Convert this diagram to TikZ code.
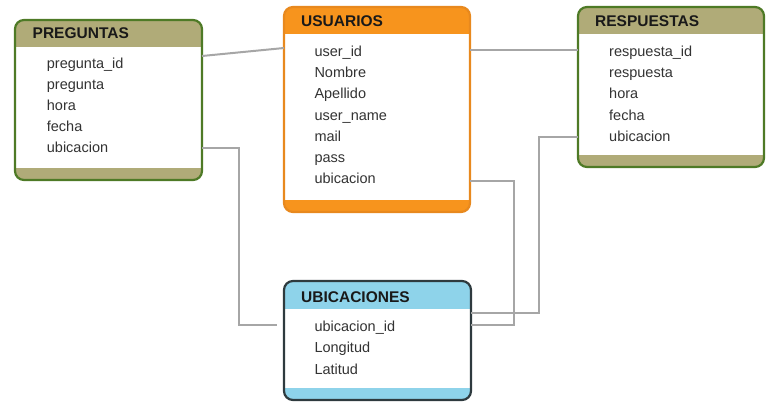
\documentclass[tikz,border=0pt]{standalone}
\usepackage{fontspec}
\setmainfont{Liberation Sans}
\usetikzlibrary{fit}
\definecolor{olivehd}{HTML}{B0AB78}
\definecolor{greenbd}{HTML}{4E7A26}
\definecolor{orangehd}{HTML}{F7941D}
\definecolor{orangebd}{HTML}{E8891E}
\definecolor{bluehd}{HTML}{8ED3EA}
\definecolor{bluebd}{HTML}{2E3A3E}
\definecolor{connc}{HTML}{A6A6A6}
\definecolor{fieldc}{HTML}{333333}
\tikzset{
  tblbox/.style={inner sep=0pt, outer sep=0pt, rounded corners=9pt, line width=2.2pt},
  ttl/.style={anchor=base west, inner sep=0pt, font=\fontsize{15.5}{18}\selectfont\bfseries, text=black!90},
  fld/.style={anchor=base west, inner sep=0pt, font=\fontsize{14.5}{17}\selectfont, text=fieldc},
  conn/.style={draw=connc, line width=2pt}
}
% #1 name, #2 x0, #3 y0, #4 x1, #5 y1, #6 header bottom, #7 footer top, #8 fill, #9 border
\newcommand\dbtab[9]{%
  \fill[#8, rounded corners=9pt] (#2,#3) rectangle (#4,#5);
  \fill[white] (#2,#6) rectangle (#4,#7);
  \node[tblbox, draw=#9, fit={(#2,#3)(#4,#5)}] (#1) {};
}
\begin{document}
\begin{tikzpicture}[x=1pt,y=-1pt]
\useasboundingbox (0,0) rectangle (777,413);
% tables
\dbtab{preg}{15}{20}{202}{180}{47}{168}{olivehd}{greenbd}
\dbtab{usu}{284}{7}{470}{212}{34}{200}{orangehd}{orangebd}
\dbtab{resp}{578}{7}{764}{167}{34}{155}{olivehd}{greenbd}
\dbtab{ubi}{284}{281}{471}{400}{309}{388}{bluehd}{bluebd}
% titles
\node[ttl] (tpreg) at (32.5,38) {PREGUNTAS};
\node[ttl] (tusu) at (301,26) {USUARIOS};
\node[ttl] (tresp) at (595,26) {RESPUESTAS};
\node[ttl] (tubi) at (301,302) {UBICACIONES};
% fields PREGUNTAS
\node[fld] (p1) at (46.7,68) {pregunta\_id};
\node[fld] (p2) at (46.7,89.2) {pregunta};
\node[fld] (p3) at (46.7,110.5) {hora};
\node[fld] (p4) at (46.7,131.7) {fecha};
\node[fld] (p5) at (46.7,152.9) {ubicacion};
% fields USUARIOS
\node[fld] (u1) at (314.3,56.7) {user\_id};
\node[fld] (u2) at (314.3,77.8) {Nombre};
\node[fld] (u3) at (314.3,98.9) {Apellido};
\node[fld] (u4) at (314.3,120) {user\_name};
\node[fld] (u5) at (314.3,141.1) {mail};
\node[fld] (u6) at (314.3,162.2) {pass};
\node[fld] (u7) at (314.3,183.3) {ubicacion};
% fields RESPUESTAS
\node[fld] (r1) at (609,56.7) {respuesta\_id};
\node[fld] (r2) at (609,77.8) {respuesta};
\node[fld] (r3) at (609,98.9) {hora};
\node[fld] (r4) at (609,120) {fecha};
\node[fld] (r5) at (609,141.1) {ubicacion};
% fields UBICACIONES
\node[fld] (b1) at (314.3,331.7) {ubicacion\_id};
\node[fld] (b2) at (314.3,352.9) {Longitud};
\node[fld] (b3) at (314.3,374.1) {Latitud};
% connectors
\begin{scope}[on background layer/.style={}]
\draw[conn] ([yshift=-36pt]preg.north east) -- ([yshift=-41pt]usu.north west);
\draw[conn] ([yshift=-43pt]usu.north east) -- ([yshift=-43pt]resp.north west);
\draw[conn] ([yshift=-128pt]preg.north east) -- ++(36.5pt,0) |- ([xshift=-7pt,yshift=-44pt]ubi.north west);
\draw[conn] ([yshift=-174pt]usu.north east) -- ++(44pt,0) |- ([yshift=-43.5pt]ubi.north east);
\draw[conn] ([yshift=-130pt]resp.north west) -- ++(-39pt,0) |- ([yshift=-32pt]ubi.north east);
\end{scope}
\end{tikzpicture}
\end{document}
